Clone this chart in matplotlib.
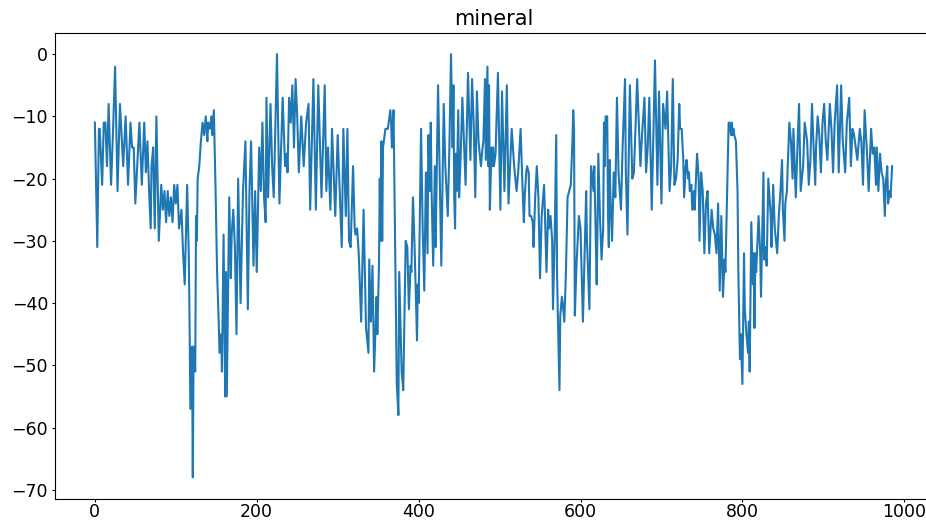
import matplotlib
matplotlib.use("Agg")
import matplotlib.pyplot as plt

title = "mineral"

# sample index and value
idx = [0, 3, 5, 6, 9, 11, 13, 15, 17, 20, 22, 25, 28, 31, 35, 38, 41, 44, 46, 48,
       50, 55, 58, 61, 63, 65, 67, 69, 70, 72, 74, 76, 79,
       82, 84, 86, 88, 90, 92, 94, 96, 98, 100, 102, 104, 107, 109, 111, 114, 116, 117,
       118, 120, 121, 122, 124, 125, 126, 127, 129, 131, 133, 135, 137, 139, 140, 142,
       144, 145, 147, 149, 151, 153, 154, 156, 157, 159, 161, 162, 163, 165, 166, 168, 169,
       171, 173, 175, 177, 180, 183, 186, 189, 191, 193, 196, 198, 200, 203, 205, 207,
       209, 211, 212, 214, 217, 219, 221, 225, 228, 232, 235, 237, 238, 240, 242, 244,
       246, 248, 250, 252, 255, 258,
       261, 264, 266, 270, 273, 276, 280, 284, 286, 288, 291, 293, 297, 300, 305, 307,
       310, 312, 314, 316, 319, 321, 322, 324, 326, 329, 332, 334, 335, 338, 339, 341,
       343, 345, 348,
       349, 351, 352, 353, 354, 355, 356, 358, 359, 362, 363, 365, 366, 367, 369, 373,
       375, 376, 379, 381, 384, 386, 388, 390, 391, 393, 395, 398, 399, 400, 403, 405,
       407, 409, 411, 412, 414, 415, 416, 418, 420, 421, 424, 426, 428, 431, 433, 436,
       438, 440,
       442, 443, 444, 445, 446, 447, 449, 450, 452, 454, 456, 458, 461, 464, 466, 468,
       470, 472, 474, 477, 479, 480, 482, 483, 485, 486, 487, 488, 490, 491, 492, 493,
       495, 498, 501, 503, 506, 509, 511, 515, 518, 521, 523, 526, 528, 530,
       531, 533, 534, 536, 537, 539, 541, 542, 544, 546, 548, 550, 552, 555, 558, 560,
       561, 563, 565, 566, 568, 570, 571, 572, 574, 575, 577, 578, 580, 582, 584, 586,
       588, 590, 591, 592, 593, 595, 598, 600, 603, 607, 608, 611, 613, 614, 616, 617, 620,
       621, 622, 624, 626, 628, 629, 630, 631, 633, 634, 635, 636, 637, 639, 641, 643,
       645, 647, 650, 652, 655, 656, 658, 661, 664, 666, 670, 674, 676, 679, 681, 683,
       685, 688, 692, 695, 697, 700, 702, 705, 707, 710,
       712, 714, 716, 718, 720, 722, 723, 725, 727, 728, 730, 731, 733, 734, 735, 737,
       738, 740, 741, 743, 744, 746, 747, 749, 751, 753, 755, 757, 759, 762, 764, 766,
       768, 770, 772, 774, 776, 778, 779, 781, 783, 784, 786, 787, 788, 789, 790, 792,
       794, 795, 797, 798, 800,
       802, 803, 805, 807, 808, 809, 811, 813, 814, 815, 816, 817, 819, 820, 822, 823,
       826, 827, 828, 830, 832, 835, 836, 838, 840, 843, 845, 847, 849, 850, 852, 853,
       855, 856, 858, 860, 862, 863, 866, 868, 870, 872, 875, 877, 880, 882, 884, 886,
       888, 890,
       891, 893, 895, 897, 899, 901, 903, 905, 908, 910, 912, 914, 917, 919, 922, 924,
       927, 929, 932, 934, 936, 938, 940, 942, 945, 947, 949, 951, 954, 956, 959, 961,
       963, 965, 966, 968, 970, 972, 974, 976, 977, 979, 980, 982, 983, 985]

vals = [-11, -31, -12, -12, -21, -11, -11, -18, -8, -21, -14, -2, -22, -8, -18, -10, -21, -11, -15, -15,
        -24, -11, -21, -11, -19, -14, -22, -28, -18, -15, -28, -10, -30,
        -21, -25, -22, -27, -22, -26, -23, -27, -21, -24, -21, -28, -25, -32, -37, -21, -32, -43,
        -57, -47, -68, -47, -51, -26, -30, -20, -18, -14, -11, -13, -10, -14, -11, -12,
        -10, -13, -9, -21, -35, -43, -48, -45, -51, -29, -55, -35, -55, -33, -23, -36, -29,
        -25, -31, -45, -20, -40, -22, -14, -41, -22, -14, -34, -22, -35, -15, -22, -11,
        -23, -27, -7, -23, -8, -18, -23, 0, -24, -7, -18, -16, -19, -7, -11, -5,
        -15, -4, -10, -19, -10, -18,
        -11, -8, -25, -4, -25, -5, -23, -5, -22, -15, -25, -12, -26, -13, -31, -12,
        -26, -12, -30, -31, -18, -28, -29, -28, -32, -43, -25, -38, -44, -48, -33, -43,
        -34, -51, -39,
        -45, -34, -20, -30, -14, -30, -15, -13, -12, -12, -11, -9, -11, -15, -9, -53,
        -58, -35, -51, -54, -30, -31, -41, -34, -35, -23, -31, -46, -37, -40, -12, -28,
        -38, -19, -32, -13, -22, -11, -22, -34, -18, -31, -5, -19, -34, -8, -18, -26,
        -15, 0,
        -15, -5, -23, -28, -16, -22, -9, -23, -16, -7, -14, -21, -3, -17, -4, -11,
        -23, -6, -14, -18, -15, -14, -4, -17, -2, -18, -5, -25, -15, -18, -15, -18,
        -16, -3, -25, -6, -22, -5, -24, -12, -18, -22, -19, -12, -20, -27,
        -23, -19, -18, -19, -26, -26, -27, -31, -23, -18, -23, -36, -26, -21, -35, -25,
        -28, -26, -30, -41, -30, -13, -35, -42, -54, -42, -39, -40, -43, -35, -23, -22,
        -21, -14, -9, -12, -42, -34, -26, -28, -43, -22, -30, -41, -18, -19, -22, -18, -37,
        -28, -16, -26, -33, -28, -11, -18, -10, -10, -26, -31, -17, -23, -30, -19, -23,
        -7, -19, -25, -15, -4, -19, -29, -5, -20, -19, -4, -18, -13, -7, -19, -15,
        -7, -25, -1, -21, -6, -24, -8, -12, -6, -22,
        -18, -4, -21, -20, -17, -8, -12, -12, -17, -23, -18, -17, -20, -19, -22, -21,
        -25, -22, -25, -19, -16, -20, -30, -19, -22, -32, -24, -22, -32, -25, -28, -29,
        -32, -24, -38, -26, -39, -33, -35, -23, -11, -11, -13, -11, -13, -12, -13, -14,
        -22, -35, -49, -45, -53,
        -32, -41, -45, -48, -43, -51, -27, -37, -32, -44, -32, -35, -29, -26, -32, -39,
        -19, -33, -31, -34, -20, -26, -31, -21, -28, -32, -26, -22, -17, -25, -30, -24,
        -22, -18, -11, -14, -20, -12, -23, -15, -8, -22, -18, -11, -14, -21, -17, -8,
        -15, -21,
        -15, -10, -13, -19, -11, -8, -14, -17, -8, -12, -19, -11, -5, -19, -5, -14,
        -19, -11, -7, -18, -12, -13, -15, -17, -12, -14, -21, -9, -16, -22, -12, -16,
        -15, -21, -15, -22, -16, -19, -20, -26, -21, -18, -24, -22, -23, -18]

fig = plt.figure(figsize=(9.26, 5.21), dpi=100)
# axes run slightly past the right edge, as in the cropped original
ax = fig.add_axes([55 / 926, 22.5 / 521, 877 / 926, 465.5 / 521])
ax.plot(idx, vals, color="#1f77b4", linewidth=1.5)
ax.set_title(title, fontsize=15)
ax.tick_params(axis="x", labelsize=12.5, length=2.5, pad=1.0)
ax.tick_params(axis="y", labelsize=12.5, length=2.5, pad=2.5)
ax.set_xticks([0, 200, 400, 600, 800, 1000])

fig.savefig("out.png", dpi=100)
